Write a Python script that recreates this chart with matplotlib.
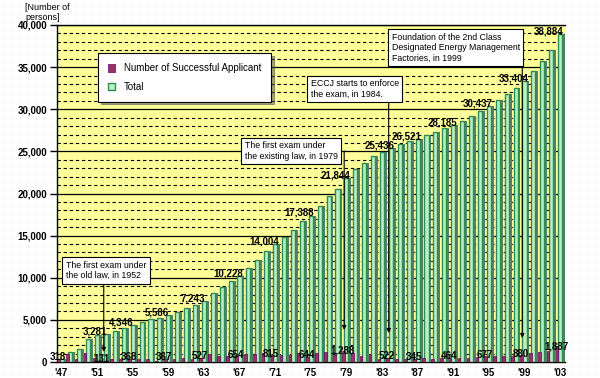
import numpy as np
import matplotlib
matplotlib.use("Agg")
import matplotlib.pyplot as plt


# Data
years = list(range(1947, 2004))

total = [318, 1230, 1600, 2690, 3150, 3281, 3640, 3978, 4346, 4714,
         5060, 5219, 5586, 5950, 6370, 6716, 7243, 8150, 8860, 9574,
         10228, 11200, 12150, 13189, 14004, 14860, 15660, 16744, 17388, 18500,
         19700, 20556, 21844, 22900, 23650, 24500, 24914, 25436, 25850, 26176,
         26521, 26950, 27300, 27721, 28185, 28650, 29150, 29760, 30437, 31150,
         31850, 32524, 33404, 34500, 35700, 36997, 38884]

successful = [318, 912, 370, 1090, 460, 131, 359, 338, 368, 368,
              346, 159, 367, 364, 420, 346, 527, 907, 710, 714,
              654, 972, 950, 1039, 815, 856, 800, 1084, 644, 1112,
              1200, 856, 1288, 1056, 750, 850, 414, 522, 414, 326,
              345, 429, 350, 421, 464, 465, 500, 610, 677, 713,
              700, 674, 880, 1096, 1200, 1297, 1887]

total_label_years = [1952, 1955, 1959, 1963, 1967, 1971, 1975, 1979,
                     1984, 1987, 1991, 1995, 1999, 2003]
success_label_years = [1947, 1952, 1955, 1959, 1963, 1967, 1971, 1975,
                       1979, 1984, 1987, 1991, 1995, 1999, 2003]

tick_years = [1947, 1951, 1955, 1959, 1963, 1967, 1971, 1975,
              1979, 1983, 1987, 1991, 1995, 1999, 2003]
tick_labels = ["'47", "'51", "'55", "'59", "'63", "'67", "'71", "'75",
               "'79", "'83", "'87", "'91", "'95", "'99", "'03"]

notes = [
    ("The first exam under\nthe old law, in 1952", 1952),
    ("The first exam under\nthe existing law, in 1979", 1979),
    ("ECCJ starts to enforce\nthe exam, in 1984.", 1984),
    ("Foundation of the 2nd Class\nDesignated Energy Management\nFactories, in 1999", 1999),
]

plt.rcParams["font.family"] = ["Liberation Sans", "DejaVu Sans"]

fig = plt.figure(figsize=(6, 3.78), dpi=100)

# dotted background texture
bg = fig.add_axes([0, 0, 1, 1], zorder=0)
bg.set_xlim(0, 600)
bg.set_ylim(0, 378)
bg.axis("off")
gx, gy = np.meshgrid(np.arange(4, 600, 8), np.arange(4, 378, 8))
bg.scatter(gx.ravel(), gy.ravel(), s=0.25, color="#b5b5b5", linewidths=0)

ax = fig.add_axes([57 / 600, 16 / 378, 508 / 600, 337 / 378], zorder=1)
ax.set_facecolor("#ffff99")

x = np.arange(len(years))

ax.bar(x + 0.44, total, width=0.32, color="#5a7d66", zorder=2.9)
ax.bar(x + 0.05, total, width=0.46, facecolor="#b9f0c0", edgecolor="#2e8b57",
       linewidth=1.0, zorder=3, label="Total")
ax.bar(x - 0.3, successful, width=0.3, facecolor="#993366", edgecolor="#660066",
       linewidth=0.5, zorder=4, label="Number of Successful Applicant")

ax.set_xlim(-0.45, 56.6)
ax.set_ylim(0, 40000)

ax.set_yticks(range(0, 40001, 5000))
ax.set_yticklabels([f"{v:,}" for v in range(0, 40001, 5000)],
                   fontsize=7, fontweight="bold")
ax.set_yticks(range(0, 40001, 1000), minor=True)
ax.set_axisbelow(True)
ax.grid(which="major", axis="y", color="black", linewidth=0.9)
ax.grid(which="minor", axis="y", color="black", linewidth=0.8,
        linestyle=(0, (3, 2.5)))
ax.tick_params(axis="y", which="minor", length=0)
ax.tick_params(axis="y", which="major", length=5, width=1, pad=2)

ax.set_xticks([years.index(y) for y in tick_years])
ax.set_xticklabels(tick_labels, fontsize=7, fontweight="bold")
ax.tick_params(axis="x", length=0, pad=4)

ax.spines["right"].set_visible(False)
for s in ["left", "bottom", "top"]:
    ax.spines[s].set_linewidth(1.0)

# value labels
for y in total_label_years:
    i = years.index(y)
    ax.text(i - 1.2, total[i] + 300, f"{total[i]:,}", fontsize=7,
            fontweight="bold", ha="center", va="center", zorder=7)
for y in success_label_years:
    i = years.index(y)
    ax.text(i - 0.4, successful[i] * 0.8 + 300, f"{successful[i]:,}", fontsize=7,
            fontweight="bold", ha="center", va="center", zorder=7)

# annotation boxes with arrows
box_pos = [(0.55, 10860), (20.65, 25050), (28.05, 32400), (37.15, 37300)]
tips = [1200, 3800, 3440, 2850]
for (txt, yr), (bx, by), tip in zip(notes, box_pos, tips):
    i = years.index(yr) - 0.2
    ax.annotate("", xy=(i, tip), xytext=(i, by),
                arrowprops=dict(arrowstyle="-|>", color="black", lw=0.8,
                                mutation_scale=6, shrinkA=0, shrinkB=0),
                zorder=5)
    ax.text(bx, by, txt, fontsize=6.3, ha="left", va="center", zorder=6,
            linespacing=1.2,
            bbox=dict(boxstyle="square,pad=0.4", fc="white", ec="black", lw=0.8))

handles, labels = ax.get_legend_handles_labels()
leg = ax.legend(handles[::-1], labels[::-1], loc="upper left",
                bbox_to_anchor=(0.071, 0.93), fontsize=7, frameon=True,
                fancybox=False, shadow=True, handlelength=0.8, handleheight=0.8,
                handletextpad=0.9, borderpad=1.0, labelspacing=0.9)
leg.get_frame().set_edgecolor("black")
leg.get_frame().set_linewidth(0.8)
leg.set_zorder(8)

fig.text(25 / 600, 1 - 3 / 378, "[Number of\npersons]", fontsize=6.5,
         ha="left", va="top", linespacing=1.1)

plt.savefig("out.png", dpi=100)
